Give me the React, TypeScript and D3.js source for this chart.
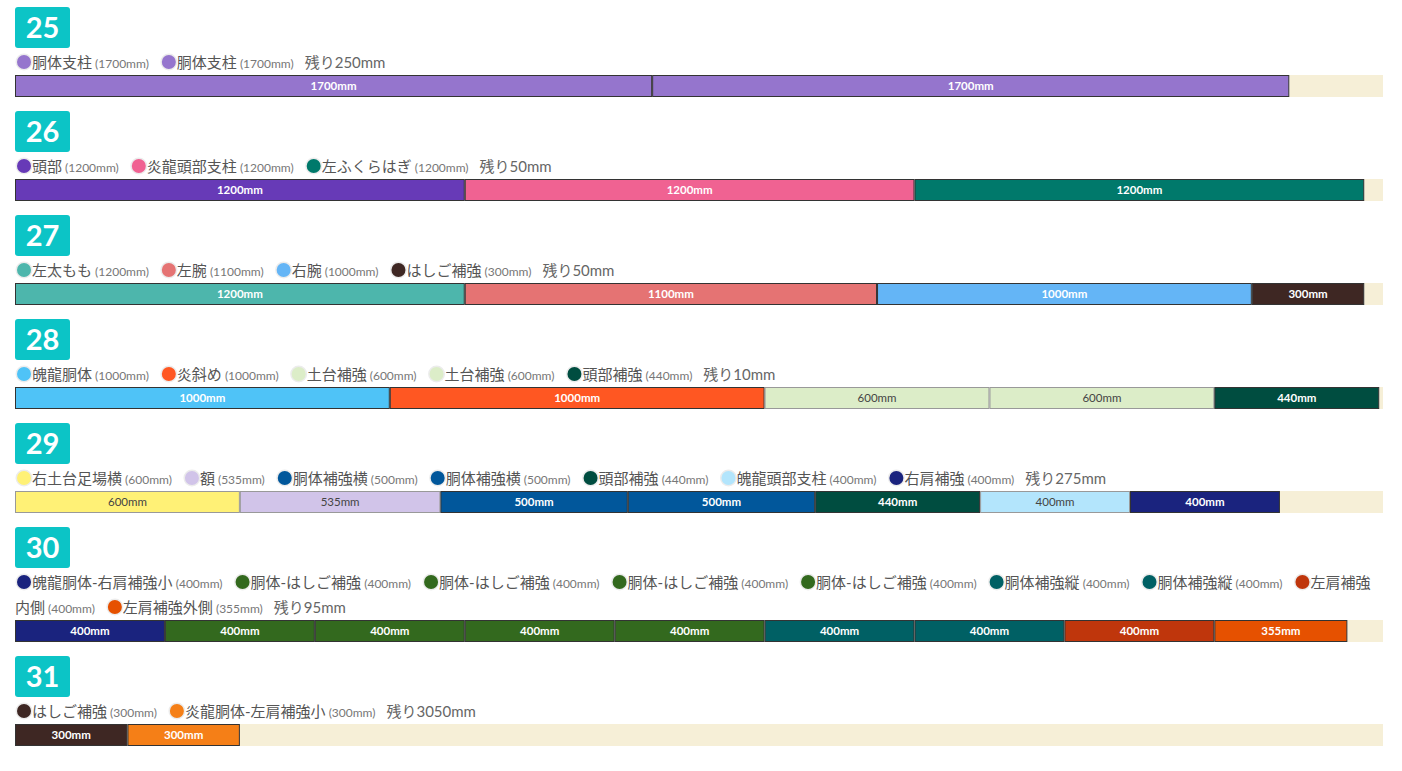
import React, { useEffect, useRef } from "react";
import * as d3 from "d3";

const stockLength = 3650;
const rodIds = [25, 26, 27, 28, 29, 30, 31];

const partNames = [
  ["胴体支柱", "胴体支柱"],
  ["頭部", "炎龍頭部支柱", "左ふくらはぎ"],
  ["左太もも", "左腕", "右腕", "はしご補強"],
  ["魄龍胴体", "炎斜め", "土台補強", "土台補強", "頭部補強"],
  ["右土台足場横", "額", "胴体補強横", "胴体補強横", "頭部補強", "魄龍頭部支柱", "右肩補強"],
  [
    "魄龍胴体-右肩補強小",
    "胴体-はしご補強",
    "胴体-はしご補強",
    "胴体-はしご補強",
    "胴体-はしご補強",
    "胴体補強縦",
    "胴体補強縦",
    "左肩補強内側",
    "左肩補強外側",
  ],
  ["はしご補強", "炎龍胴体-左肩補強小"],
];

const partLengths = [
  [1700, 1700],
  [1200, 1200, 1200],
  [1200, 1100, 1000, 300],
  [1000, 1000, 600, 600, 440],
  [600, 535, 500, 500, 440, 400, 400],
  [400, 400, 400, 400, 400, 400, 400, 400, 355],
  [300, 300],
];

const partColors = [
  ["#9575cd", "#9575cd"],
  ["#673ab7", "#f06292", "#00796b"],
  ["#4db6ac", "#e57373", "#64b5f6", "#3e2723"],
  ["#4fc3f7", "#ff5722", "#dcedc8", "#dcedc8", "#004d40"],
  ["#fff176", "#d1c4e9", "#01579b", "#01579b", "#004d40", "#b3e5fc", "#1a237e"],
  ["#1a237e", "#33691e", "#33691e", "#33691e", "#33691e", "#006064", "#006064", "#bf360c", "#e65100"],
  ["#3e2723", "#f57f17"],
];

const FONT = "Lato, 'Noto Sans CJK JP', sans-serif";
const LEFT = 15;
const RIGHT = 1383;

export default function App() {
  const svgRef = useRef<SVGSVGElement>(null);

  useEffect(() => {
    if (!svgRef.current) return;
    document.body.style.margin = "0";
    const svg = d3.select(svgRef.current);
    svg.selectAll("*").remove();

    const x = d3.scaleLinear().domain([0, stockLength]).range([LEFT, RIGHT]);

    // hidden text for measuring
    const probe = svg.append("text").attr("font-family", FONT).attr("x", -1000).attr("y", -1000);
    const measure = (s: string, size: number, weight = "normal") => {
      probe.attr("font-size", size).attr("font-weight", weight).text(s);
      return (probe.node() as SVGTextElement).getComputedTextLength();
    };

    let top = 7;
    rodIds.forEach((id, i) => {
      const g = svg.append("g");

      // number badge
      g.append("rect")
        .attr("x", LEFT).attr("y", top).attr("width", 55).attr("height", 41)
        .attr("rx", 3).attr("fill", "#0cc4c6");
      g.append("text")
        .attr("x", LEFT + 27.5).attr("y", top + 31)
        .attr("text-anchor", "middle").attr("fill", "#fff")
        .attr("font-family", FONT).attr("font-size", 29).attr("font-weight", "bold")
        .text(id);

      // legend, wrapping like inline text
      let cx = LEFT;
      let cy = top + 55;
      const lineH = 25;
      const breakIfNeeded = (w: number) => {
        if (cx + w > RIGHT && cx > LEFT) {
          cx = LEFT;
          cy += lineH;
        }
      };
      const writeWrapped = (s: string, size: number, fill: string) => {
        let run = "";
        let runX = cx;
        const flush = () => {
          if (run) {
            g.append("text")
              .attr("x", runX).attr("y", cy + 5.5)
              .attr("font-family", FONT).attr("font-size", size).attr("fill", fill)
              .text(run);
          }
          run = "";
        };
        for (const ch of Array.from(s)) {
          const w = measure(ch, size);
          if (cx + w > RIGHT && cx > LEFT) {
            flush();
            cx = LEFT;
            cy += lineH;
          }
          if (!run) runX = cx;
          run += ch;
          cx += w;
        }
        flush();
      };

      partNames[i].forEach((name, j) => {
        breakIfNeeded(17);
        g.append("circle").attr("cx", cx + 9).attr("cy", cy).attr("r", 8.5).attr("fill", "#ececec");
        g.append("circle").attr("cx", cx + 9).attr("cy", cy).attr("r", 7).attr("fill", partColors[i][j]);
        cx += 17;
        writeWrapped(name, 15, "#555");
        cx += 3;
        const sizeLabel = `(${partLengths[i][j]}mm)`;
        const sw = measure(sizeLabel, 12);
        breakIfNeeded(sw);
        g.append("text")
          .attr("x", cx).attr("y", cy + 5.5)
          .attr("font-family", FONT).attr("font-size", 12).attr("fill", "#777")
          .text(sizeLabel);
        cx += sw + 11;
      });
      const used = d3.sum(partLengths[i]);
      writeWrapped(`残り${stockLength - used}mm`, 15, "#666");

      // bar
      const barTop = cy + 13;
      const barH = 22;
      g.append("rect")
        .attr("x", x(used)).attr("y", barTop)
        .attr("width", x(stockLength) - x(used)).attr("height", barH)
        .attr("fill", "#f6efd7");

      let start = 0;
      partLengths[i].forEach((len, j) => {
        const color = partColors[i][j];
        const light = d3.lab(color).l > 78;
        const x0 = x(start);
        const x1 = x(start + len);
        g.append("rect")
          .attr("x", x0 + 0.5).attr("y", barTop + 0.5)
          .attr("width", x1 - x0 - 1).attr("height", barH - 1)
          .attr("fill", color)
          .attr("stroke", light ? "#999" : "#333").attr("stroke-width", 1);
        g.append("text")
          .attr("x", (x0 + x1) / 2).attr("y", barTop + barH / 2 + 4)
          .attr("text-anchor", "middle")
          .attr("font-family", FONT).attr("font-size", 11.5)
          .attr("font-weight", light ? "normal" : "bold")
          .attr("fill", light ? "#444" : "#fff")
          .text(`${len}mm`);
        start += len;
      });

      top = barTop + barH + 14;
    });

    probe.remove();
  }, []);

  return <svg ref={svgRef} width={1402} height={771} style={{ display: "block", background: "#fff" }} />;
}
